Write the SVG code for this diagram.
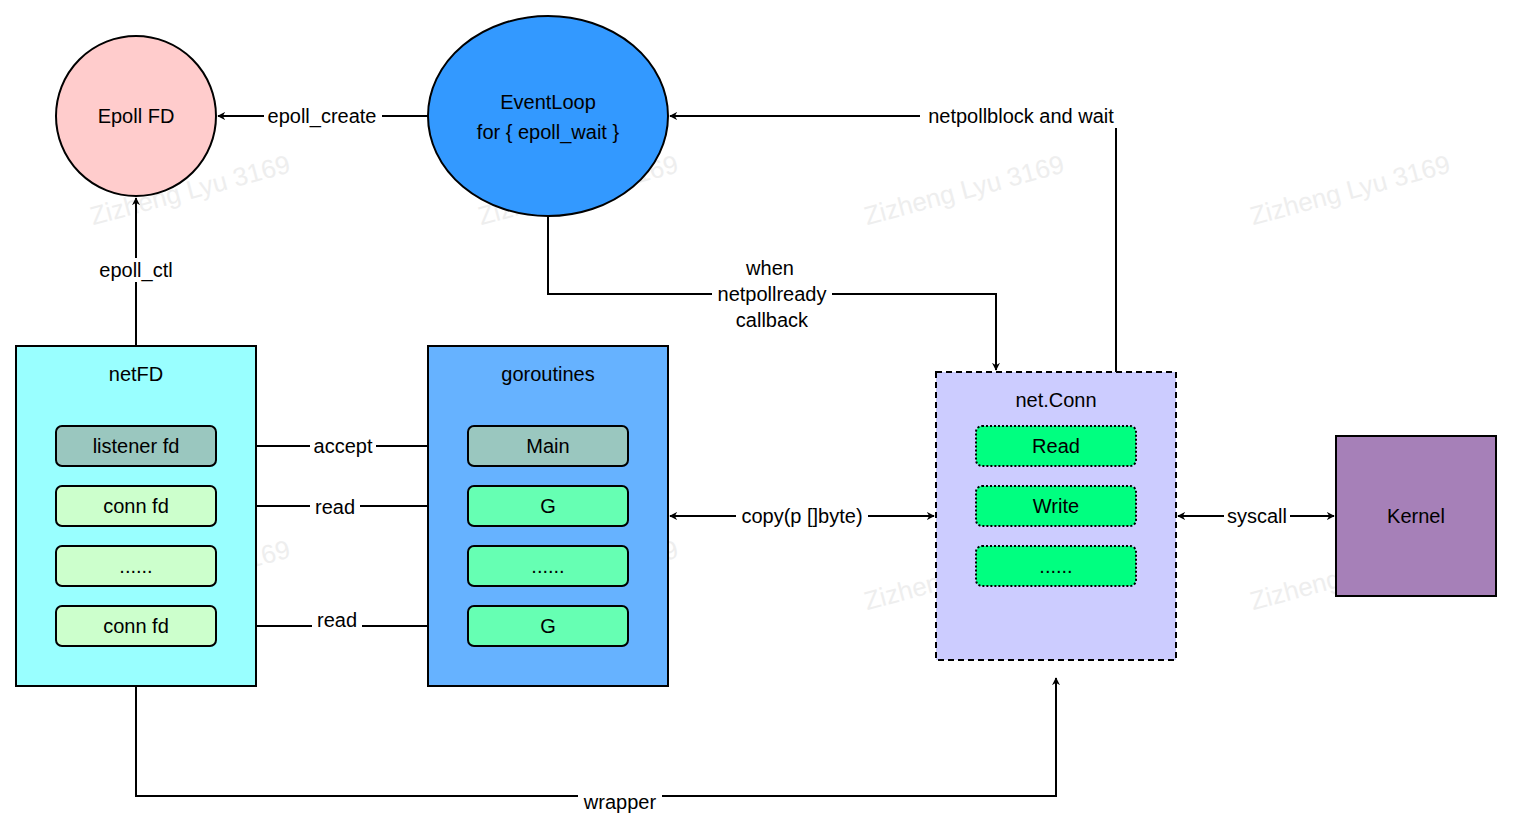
<svg xmlns="http://www.w3.org/2000/svg" width="1514" height="832" viewBox="0 0 1514 832">
<style>
text{font-family:"Liberation Sans",Arial,sans-serif;font-size:20px;fill:#000;text-anchor:middle;dominant-baseline:central}
.sh{stroke:#000;stroke-width:2}
.in{stroke:#000;stroke-width:2;rx:6}
.c{fill:none;stroke:#000;stroke-width:2}
.lb{fill:#fff}
.wm{fill:#eeeeee;font-size:26px}
</style>
<defs>
<marker id="a" viewBox="0 0 10 10" refX="9" refY="5" markerWidth="8" markerHeight="8" orient="auto-start-reverse" markerUnits="userSpaceOnUse"><path d="M0,0 L10,5 L0,10 L3,5 z" fill="#000"/></marker>
</defs>
<rect width="1514" height="832" fill="#fff"/>
<g id="watermarks">
<text class="wm" x="190" y="190" transform="rotate(-15 190 190)">Zizheng Lyu 3169</text>
<text class="wm" x="578" y="190" transform="rotate(-15 578 190)">Zizheng Lyu 3169</text>
<text class="wm" x="964" y="190" transform="rotate(-15 964 190)">Zizheng Lyu 3169</text>
<text class="wm" x="1350" y="190" transform="rotate(-15 1350 190)">Zizheng Lyu 3169</text>
<text class="wm" x="190" y="575" transform="rotate(-15 190 575)">Zizheng Lyu 3169</text>
<text class="wm" x="578" y="575" transform="rotate(-15 578 575)">Zizheng Lyu 3169</text>
<text class="wm" x="964" y="575" transform="rotate(-15 964 575)">Zizheng Lyu 3169</text>
<text class="wm" x="1350" y="575" transform="rotate(-15 1350 575)">Zizheng Lyu 3169</text>
</g>
<g id="connectors">
<path class="c" d="M428,116 H218" marker-end="url(#a)"/>
<path class="c" d="M136,346 V198" marker-end="url(#a)"/>
<path class="c" d="M1116,372 V116 H670" marker-end="url(#a)"/>
<path class="c" d="M548,216 V294 H996 V370" marker-end="url(#a)"/>
<path class="c" d="M216,446 H466" marker-end="url(#a)"/>
<path class="c" d="M216,506 H466" marker-end="url(#a)"/>
<path class="c" d="M216,626 H466" marker-end="url(#a)"/>
<path class="c" d="M670,516 H934" marker-start="url(#a)" marker-end="url(#a)"/>
<path class="c" d="M1178,516 H1334" marker-start="url(#a)" marker-end="url(#a)"/>
<path class="c" d="M136,686 V796 H1056 V678" marker-end="url(#a)"/>
<rect class="lb" x="264" y="104" width="118" height="24"/><text x="322" y="116">epoll_create</text>
<rect class="lb" x="94" y="258" width="84" height="24"/><text x="136" y="270">epoll_ctl</text>
<rect class="lb" x="920" y="104" width="202" height="24"/><text x="1021" y="116">netpollblock and wait</text>
<rect class="lb" x="712" y="256" width="120" height="78"/>
<text x="770" y="268">when</text><text x="772" y="294">netpollready</text><text x="772" y="320">callback</text>
<rect class="lb" x="310" y="434" width="66" height="24"/><text x="343" y="446">accept</text>
<rect class="lb" x="310" y="494" width="50" height="24"/><text x="335" y="507">read</text>
<rect class="lb" x="312" y="608" width="50" height="24"/><text x="337" y="620">read</text>
<rect class="lb" x="736" y="504" width="132" height="24"/><text x="802" y="516">copy(p []byte)</text>
<rect class="lb" x="1224" y="504" width="66" height="24"/><text x="1257" y="516">syscall</text>
<rect class="lb" x="578" y="790" width="84" height="24"/><text x="620" y="802">wrapper</text>
</g>
<g id="epollfd"><circle class="sh" cx="136" cy="116" r="80" fill="#ffcccc"/><text x="136" y="116">Epoll FD</text></g>
<g id="eventloop"><ellipse class="sh" cx="548" cy="116" rx="120" ry="100" fill="#3399ff"/><text x="548" y="102">EventLoop</text><text x="548" y="132">for { epoll_wait }</text></g>
<g id="netfd"><rect class="sh" x="16" y="346" width="240" height="340" fill="#99ffff"/><text x="136" y="374">netFD</text>
<rect class="in" x="56" y="426" width="160" height="40" fill="#9ac7bf"/><text x="136" y="446">listener fd</text>
<rect class="in" x="56" y="486" width="160" height="40" fill="#ccffcc"/><text x="136" y="506">conn fd</text>
<rect class="in" x="56" y="546" width="160" height="40" fill="#ccffcc"/><text x="136" y="566">......</text>
<rect class="in" x="56" y="606" width="160" height="40" fill="#ccffcc"/><text x="136" y="626">conn fd</text></g>
<g id="goroutines"><rect class="sh" x="428" y="346" width="240" height="340" fill="#66b2ff"/><text x="548" y="374">goroutines</text>
<rect class="in" x="468" y="426" width="160" height="40" fill="#9ac7bf"/><text x="548" y="446">Main</text>
<rect class="in" x="468" y="486" width="160" height="40" fill="#66ffb3"/><text x="548" y="506">G</text>
<rect class="in" x="468" y="546" width="160" height="40" fill="#66ffb3"/><text x="548" y="566">......</text>
<rect class="in" x="468" y="606" width="160" height="40" fill="#66ffb3"/><text x="548" y="626">G</text></g>
<g id="netconn"><rect class="sh" x="936" y="372" width="240" height="288" fill="#ccccff" stroke-dasharray="6 4"/><text x="1056" y="400">net.Conn</text>
<rect class="in" x="976" y="426" width="160" height="40" fill="#00ff80" stroke-dasharray="2 2"/><text x="1056" y="446">Read</text>
<rect class="in" x="976" y="486" width="160" height="40" fill="#00ff80" stroke-dasharray="2 2"/><text x="1056" y="506">Write</text>
<rect class="in" x="976" y="546" width="160" height="40" fill="#00ff80" stroke-dasharray="2 2"/><text x="1056" y="566">......</text></g>
<g id="kernel"><rect class="sh" x="1336" y="436" width="160" height="160" fill="#a680b8"/><text x="1416" y="516">Kernel</text></g>
</svg>
